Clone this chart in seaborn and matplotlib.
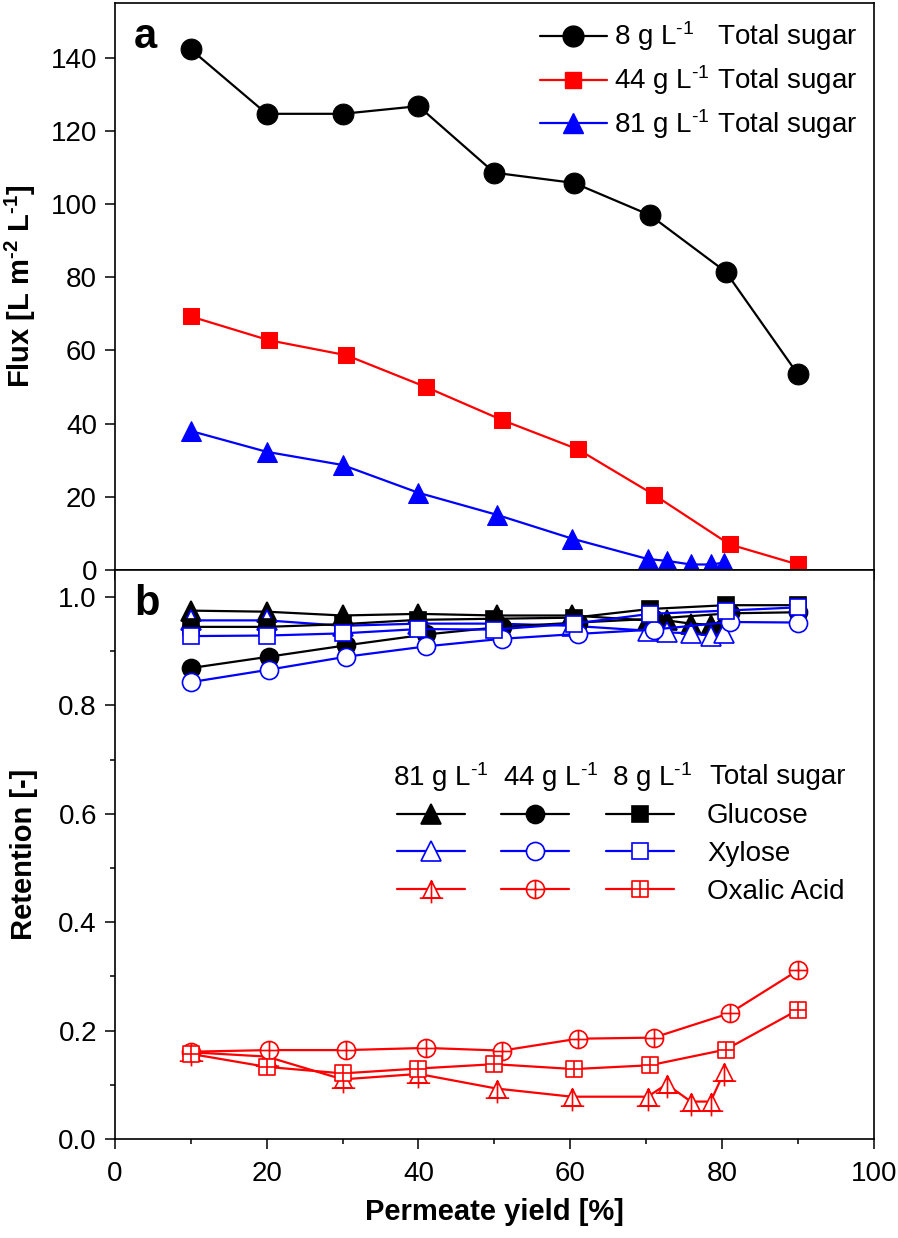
import numpy as np
import seaborn as sns
import matplotlib.pyplot as plt
from matplotlib.path import Path
from matplotlib.lines import Line2D
from matplotlib.ticker import MultipleLocator

# permeate yield [%] for each feed concentration
x8 = [10, 20, 30, 40, 50, 60.5, 70.5, 80.5, 90]
x44 = [10, 20.3, 30.5, 41, 51, 61, 71, 81, 90]
x81 = [10, 20, 30, 40, 50.3, 60.2, 70.2, 72.7, 75.9, 78.5, 80.3]

# panel a: flux
flux8 = [142.3, 124.7, 124.7, 126.8, 108.6, 105.8, 97.0, 81.5, 53.5]
flux44 = [69.3, 62.8, 58.7, 50.0, 41.0, 33.0, 20.6, 7.0, 1.5]
flux81 = [38.0, 32.3, 28.7, 21.1, 15.1, 8.6, 3.0, 2.5, 1.5, 1.5, 2.0]

# panel b: retention [-]
glu81 = [0.975, 0.973, 0.966, 0.969, 0.966, 0.966, 0.957, 0.957, 0.951, 0.949, 0.957]
xyl81 = [0.957, 0.957, 0.947, 0.951, 0.951, 0.947, 0.938, 0.935, 0.933, 0.929, 0.933]
oxa81 = [0.160, 0.152, 0.110, 0.120, 0.093, 0.078, 0.078, 0.101, 0.069, 0.069, 0.124]
glu44 = [0.869, 0.890, 0.911, 0.931, 0.945, 0.953, 0.960, 0.970, 0.972]
xyl44 = [0.843, 0.866, 0.890, 0.909, 0.923, 0.932, 0.940, 0.954, 0.953]
oxa44 = [0.161, 0.164, 0.164, 0.168, 0.163, 0.185, 0.187, 0.232, 0.311]
glu8 = [0.945, 0.945, 0.950, 0.958, 0.960, 0.962, 0.978, 0.985, 0.985]
xyl8 = [0.928, 0.929, 0.933, 0.941, 0.940, 0.951, 0.969, 0.975, 0.981]
oxa8 = [0.157, 0.133, 0.121, 0.130, 0.138, 0.129, 0.136, 0.165, 0.238]

sns.set_style('ticks')
plt.rcParams['font.family'] = ['Liberation Sans', 'DejaVu Sans']
plt.rcParams['mathtext.default'] = 'regular'
plt.rcParams['axes.linewidth'] = 1.2
for k in ('text.color', 'axes.labelcolor', 'xtick.color', 'ytick.color'):
    plt.rcParams[k] = 'black'

FS = 20
LFS = 21
SUP1 = '$^{\u2010 1}$'
SUP2 = '$^{\u2010 2}$'


def cross(path, w, top, bottom):
    seg = Path([(-w, 0), (w, 0), (0, top), (0, bottom)],
               [Path.MOVETO, Path.LINETO, Path.MOVETO, Path.LINETO])
    return Path.make_compound_path(path, seg)


tri = Path([(0, 1), (-1, -1), (1, -1), (0, 1)],
           [Path.MOVETO, Path.LINETO, Path.LINETO, Path.CLOSEPOLY])
tri_x = Path.make_compound_path(
    tri, Path([(-1.35, -1), (1.35, -1), (0, 1.0), (0, -1.6)],
              [Path.MOVETO, Path.LINETO, Path.MOVETO, Path.LINETO]))
circ_x = cross(Path.unit_circle(), 1, 1, -1)
sq = Path([(-1, -1), (1, -1), (1, 1), (-1, 1), (-1, -1)],
          [Path.MOVETO, Path.LINETO, Path.LINETO, Path.LINETO, Path.CLOSEPOLY])
sq_x = cross(sq, 1, 1, -1)

fig = plt.figure(figsize=(8.98, 12.38), dpi=100)
ax1 = fig.add_axes([0.128, 0.5396, 0.845, 0.458])
ax2 = fig.add_axes([0.128, 0.080, 0.845, 0.4596], sharex=ax1)

# ---- panel a
lw = 1.6
sns.lineplot(x=x8, y=flux8, ax=ax1, color='black', marker='o', markersize=15,
             markerfacecolor='black', markeredgecolor='black', linewidth=lw,
             estimator=None, sort=False, legend=False)
sns.lineplot(x=x44, y=flux44, ax=ax1, color='red', marker='s', markersize=12,
             markerfacecolor='red', markeredgecolor='red', linewidth=lw,
             estimator=None, sort=False, legend=False)
sns.lineplot(x=x81, y=flux81, ax=ax1, color='blue', marker='^', markersize=15,
             markerfacecolor='blue', markeredgecolor='blue', linewidth=lw,
             estimator=None, sort=False, legend=False)

h_a = [Line2D([], [], color='black', marker='o', ms=15, lw=lw),
       Line2D([], [], color='red', marker='s', ms=12, lw=lw),
       Line2D([], [], color='blue', marker='^', ms=15, lw=lw)]
ax1.legend(h_a, ['8 g L' + SUP1 + '   Total sugar', '44 g L' + SUP1 + ' Total sugar',
                 '81 g L' + SUP1 + ' Total sugar'],
           loc='upper right', frameon=False, fontsize=FS, handlelength=2.4,
           handletextpad=0.25, labelspacing=0.36, borderaxespad=0.2)

ax1.set_ylim(0, 155)
ax1.set_yticks(np.arange(0, 141, 20))
ax1.set_ylabel('Flux [L m' + SUP2 + ' L' + SUP1 + ']', fontsize=LFS, fontweight='bold')
ax1.yaxis.set_label_coords(-0.101, 0.5)
ax1.tick_params(axis='x', labelbottom=False)
ax1.text(0.025, 0.975, 'a', transform=ax1.transAxes, fontsize=30,
         fontweight='bold', va='top', ha='left')

# ---- panel b
series = [
    (x81, glu81, 'black', '^', 'black', 15),
    (x81, xyl81, 'blue', '^', 'white', 15),
    (x81, oxa81, 'red', tri_x, 'white', 20),
    (x44, glu44, 'black', 'o', 'black', 13),
    (x44, xyl44, 'blue', 'o', 'white', 13),
    (x44, oxa44, 'red', circ_x, 'white', 13),
    (x8, glu8, 'black', 's', 'black', 11),
    (x8, xyl8, 'blue', 's', 'white', 11),
    (x8, oxa8, 'red', sq_x, 'white', 11),
]
handles = []
for xs, ys, col, mk, fc, ms in series:
    sns.lineplot(x=xs, y=ys, ax=ax2, color=col, marker=mk, markersize=ms,
                 markerfacecolor=fc, markeredgecolor=col, markeredgewidth=1.2,
                 linewidth=lw, estimator=None, sort=False, legend=False)
    handles.append(Line2D([], [], color=col, marker=mk, ms=ms, mfc=fc, mec=col,
                          mew=1.2, lw=lw))

# column-wise legend: 81, 44, 8 g/L, names in the last column
labels = ['', '', '', '', '', '', 'Glucose', 'Xylose', 'Oxalic Acid']
ax2.legend(handles, labels, ncol=3, frameon=False,
           fontsize=FS, loc='upper left', bbox_to_anchor=(0.372, 0.59),
           borderpad=0, borderaxespad=0, handlelength=2.45,
           handletextpad=1.2, columnspacing=0.1, labelspacing=0.42)
for xt, txt in zip([0.366, 0.511, 0.655, 0.784],
                   ['81 g L' + SUP1, '44 g L' + SUP1, '8 g L' + SUP1, 'Total sugar']):
    ax2.text(xt, 0.636, txt, transform=ax2.transAxes, fontsize=FS,
             va='center', ha='left')

ax2.set_ylim(0, 1.05)
ax2.set_yticks(np.arange(0, 1.01, 0.2))
ax2.yaxis.set_major_formatter(plt.FormatStrFormatter('%.1f'))
ax2.yaxis.set_minor_locator(MultipleLocator(0.1))
ax2.set_ylabel('Retention [-]', fontsize=LFS, fontweight='bold')
ax2.yaxis.set_label_coords(-0.101, 0.5)
ax2.set_xlabel('Permeate yield [%]', fontsize=LFS, fontweight='bold', labelpad=8)
ax2.text(0.025, 0.975, 'b', transform=ax2.transAxes, fontsize=30,
         fontweight='bold', va='top', ha='left')

ax2.set_xlim(0, 100)
ax2.set_xticks(np.arange(0, 101, 20))
ax2.xaxis.set_minor_locator(MultipleLocator(10))

for ax in (ax1, ax2):
    for s in ax.spines.values():
        s.set_visible(True)
        s.set_color('black')
    ax.tick_params(which='major', direction='out', length=7, width=1.1,
                   labelsize=FS, color='black')
    ax.tick_params(which='minor', direction='out', length=3.5, width=1.1)
    ax.tick_params(axis='x', pad=9)
    ax.tick_params(axis='y', pad=6)

fig.savefig('out.png', dpi=100)
